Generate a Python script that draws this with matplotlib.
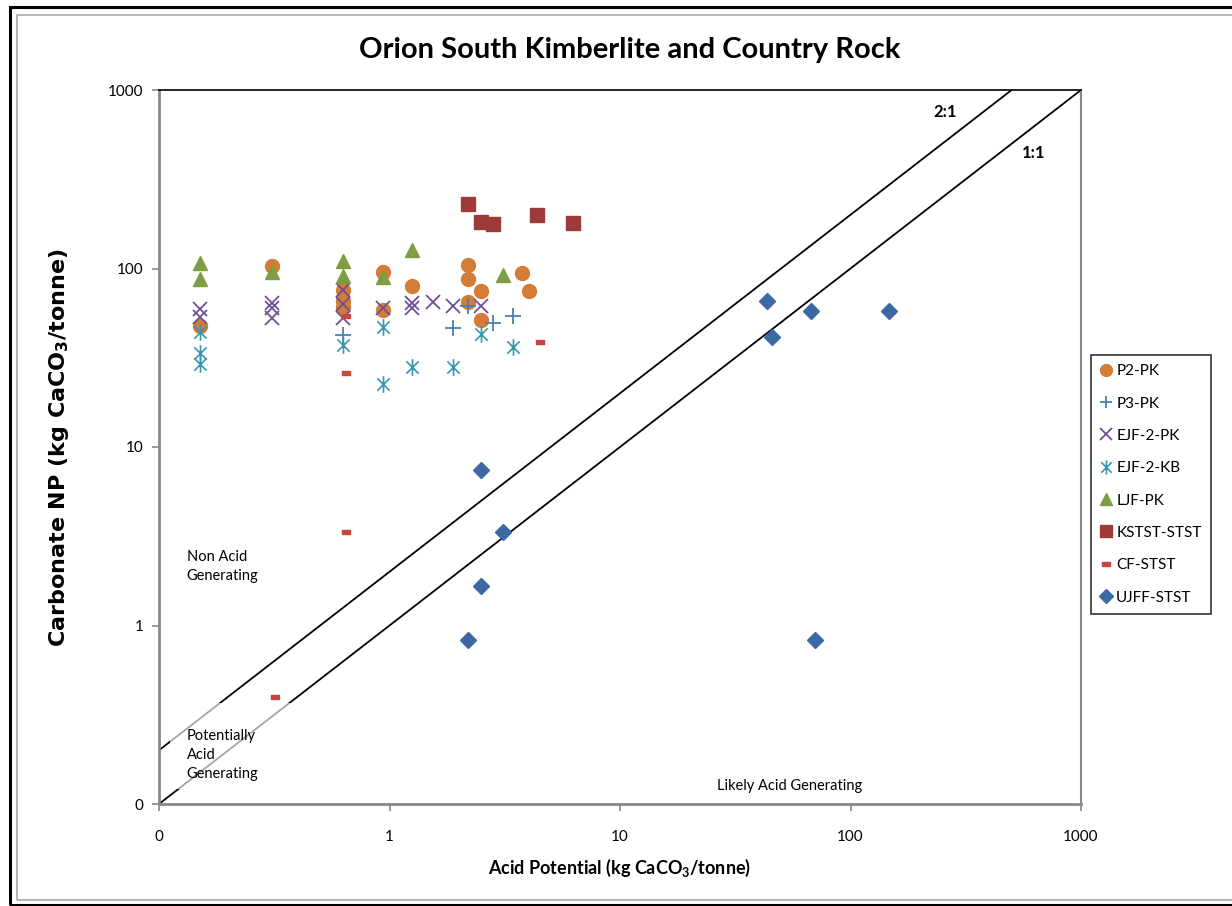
import matplotlib.pyplot as plt
import matplotlib.path as mpath
from matplotlib.patches import Rectangle

plt.rcParams['font.family'] = ['Lato', 'DejaVu Sans']
plt.rcParams['mathtext.default'] = 'regular'

# --- data (Acid Potential, Carbonate NP)
p2_ap = [0.15, 0.31, 0.63, 0.63, 0.63, 0.94, 0.94, 1.25, 2.18, 2.18, 2.18, 2.49, 2.49, 3.75, 4.04]
p2_np = [47.8, 103, 76, 66, 61, 95, 58.6, 80, 104.6, 87, 65, 74.8, 51.4, 94, 74.8]

p3_ap = [0.63, 1.88, 2.18, 2.80, 3.44]
p3_np = [42.4, 46.6, 61.9, 49.7, 54.2]

ejf_pk_ap = [0.15, 0.15, 0.31, 0.31, 0.31, 0.63, 0.63, 0.63, 0.94, 1.25, 1.25, 1.55, 1.88, 2.49]
ejf_pk_np = [59, 53.5, 64.3, 60, 52.9, 76, 63.5, 52.8, 59.8, 63.8, 59.8, 65.2, 62, 62]

ejf_kb_ap = [0.15, 0.15, 0.15, 0.63, 0.94, 0.94, 1.25, 1.88, 2.49, 3.44]
ejf_kb_np = [44, 33.5, 29, 37.3, 47.2, 22.5, 28.2, 28.2, 43, 36.5]

ljf_ap = [0.15, 0.15, 0.31, 0.63, 0.63, 0.94, 1.25, 3.12]
ljf_np = [108, 87, 96, 110, 91, 90, 127, 92]

kstst_ap = [2.18, 2.49, 2.80, 4.38, 6.23]
kstst_np = [229, 183, 177, 199.5, 180.7]

cf_ap = [0.65, 0.65, 0.65, 0.32, 4.5]
cf_np = [54.2, 25.9, 3.34, 0.40, 38.9]

ujff_ap = [2.49, 3.12, 2.49, 2.18, 43.5, 45.5, 67.4, 147, 70.1]
ujff_np = [7.43, 3.33, 1.67, 0.83, 66, 41.5, 58, 58, 0.83]

# ratio lines
line1_ap = [0.1, 1000]
line1_np = [0.1, 1000]
line2_ap = [0.1, 500]
line2_np = [0.2, 1000]

ticks = [0.1, 1, 10, 100, 1000]
tick_labels = ['0', '1', '10', '100', '1000']

# custom markers
star = mpath.Path([(-1, -1), (1, 1), (-1, 1), (1, -1), (0, -1.35), (0, 1.35)],
                  [1, 2, 1, 2, 1, 2])
dash = mpath.Path([(-1, -0.45), (1, -0.45), (1, 0.45), (-1, 0.45), (-1, -0.45)],
                  [1, 2, 2, 2, 79])

fig = plt.figure(figsize=(12.32, 9.06), dpi=100)
ax = fig.add_axes([159/1232, 1-804/906, (1081-159)/1232, (804-90)/906])

# chart frames
fig.patches.append(Rectangle((10/1232, 1-905/906), 1.0, (905-7)/906, transform=fig.transFigure,
                             fill=False, edgecolor='black', lw=2.2))
fig.patches.append(Rectangle((17/1232, 1-900/906), 1.0, (900-15)/906, transform=fig.transFigure,
                             fill=False, edgecolor='#aaaaaa', lw=1.2))

ax.plot(line1_ap, line1_np, color='black', lw=1.3, zorder=2)
ax.plot(line2_ap, line2_np, color='black', lw=1.3, zorder=2)

ax.plot(p2_ap, p2_np, ls='none', marker='o', ms=10, color='#D47B35', label='P2-PK', zorder=4)
ax.plot(p3_ap, p3_np, ls='none', marker='+', ms=11, mew=1.3, color='#4A7EBB', label='P3-PK', zorder=4)
ax.plot(ejf_pk_ap, ejf_pk_np, ls='none', marker='x', ms=10, mew=1.3, color='#6E4F96', label='EJF-2-PK', zorder=4)
ax.plot(ejf_kb_ap, ejf_kb_np, ls='none', marker=star, ms=12, mew=1.2, color='#3896AE',
        markerfacecolor='none', label='EJF-2-KB', zorder=4)
ax.plot(ljf_ap, ljf_np, ls='none', marker='^', ms=10, color='#7F9D43', label='LJF-PK', zorder=4)
ax.plot(kstst_ap, kstst_np, ls='none', marker='s', ms=10, color='#9E3B39', label='KSTST-STST', zorder=4)
ax.plot(cf_ap, cf_np, ls='none', marker=dash, ms=6, color='#C7463F', label='CF-STST', zorder=4)
ax.plot(ujff_ap, ujff_np, ls='none', marker='D', ms=8, color='#3C69A4', label='UJFF-STST', zorder=4)

ax.set_xscale('log')
ax.set_yscale('log')
ax.set_xlim(0.1, 1000)
ax.set_ylim(0.1, 1000)
ax.set_xticks(ticks)
ax.set_xticklabels(tick_labels)
ax.set_yticks(ticks)
ax.set_yticklabels(tick_labels)
ax.minorticks_off()
ax.tick_params(axis='x', length=5, width=1.2, color='#888888', labelsize=11, pad=14, direction='out')
ax.tick_params(axis='y', length=5, width=1.2, color='#888888', labelsize=11, pad=6, direction='out')

for s in ['left', 'bottom']:
    ax.spines[s].set_color('#888888')
    ax.spines[s].set_linewidth(2)
ax.spines['right'].set_color('#888888')
ax.spines['right'].set_linewidth(1.5)
ax.spines['top'].set_color('black')
ax.spines['top'].set_linewidth(1.2)

fig.text(620/1232, 1-868/906, 'Acid Potential (kg CaCO$_3$/tonne)', fontsize=13,
         fontweight='bold', ha='center', va='center')
fig.text(59/1232, 1-448/906, 'Carbonate NP (kg CaCO$_3$/tonne)', fontsize=16,
         fontweight='bold', ha='center', va='center', rotation=90, family='DejaVu Sans')
fig.text(630/1232, 1-50/906, 'Orion South Kimberlite and Country Rock', fontsize=21,
         fontweight='bold', ha='center', va='center')

# region labels
ax.add_patch(Rectangle((170/1232, 1-789/906), 122/1232, 86/906, transform=fig.transFigure,
                       facecolor='white', edgecolor='none', alpha=0.65, zorder=3, clip_on=False))
ax.text(0.132, 0.263, 'Potentially\nAcid\nGenerating', fontsize=10.5, va='top', ha='left',
        linespacing=1.45, zorder=5)
ax.text(0.132, 2.65, 'Non Acid\nGenerating', fontsize=10.5, va='top', ha='left', linespacing=1.45)
ax.text(54.6, 0.126, 'Likely Acid Generating', fontsize=10.5, ha='center', va='center')
ax.text(257, 753, '2:1', fontsize=12, fontweight='bold', ha='center', va='center')
ax.text(625, 444, '1:1', fontsize=12, fontweight='bold', ha='center', va='center')

leg = fig.legend(loc='upper left', bbox_to_anchor=(1091/1232, 1-355/906), fontsize=11,
                 frameon=True, fancybox=False, edgecolor='black', labelspacing=1.2,
                 handletextpad=0.35, handlelength=0.7, borderpad=0.6, borderaxespad=0,
                 numpoints=1, markerscale=0.85)
leg.get_frame().set_linewidth(1.2)

plt.savefig('out.png', dpi=100)
